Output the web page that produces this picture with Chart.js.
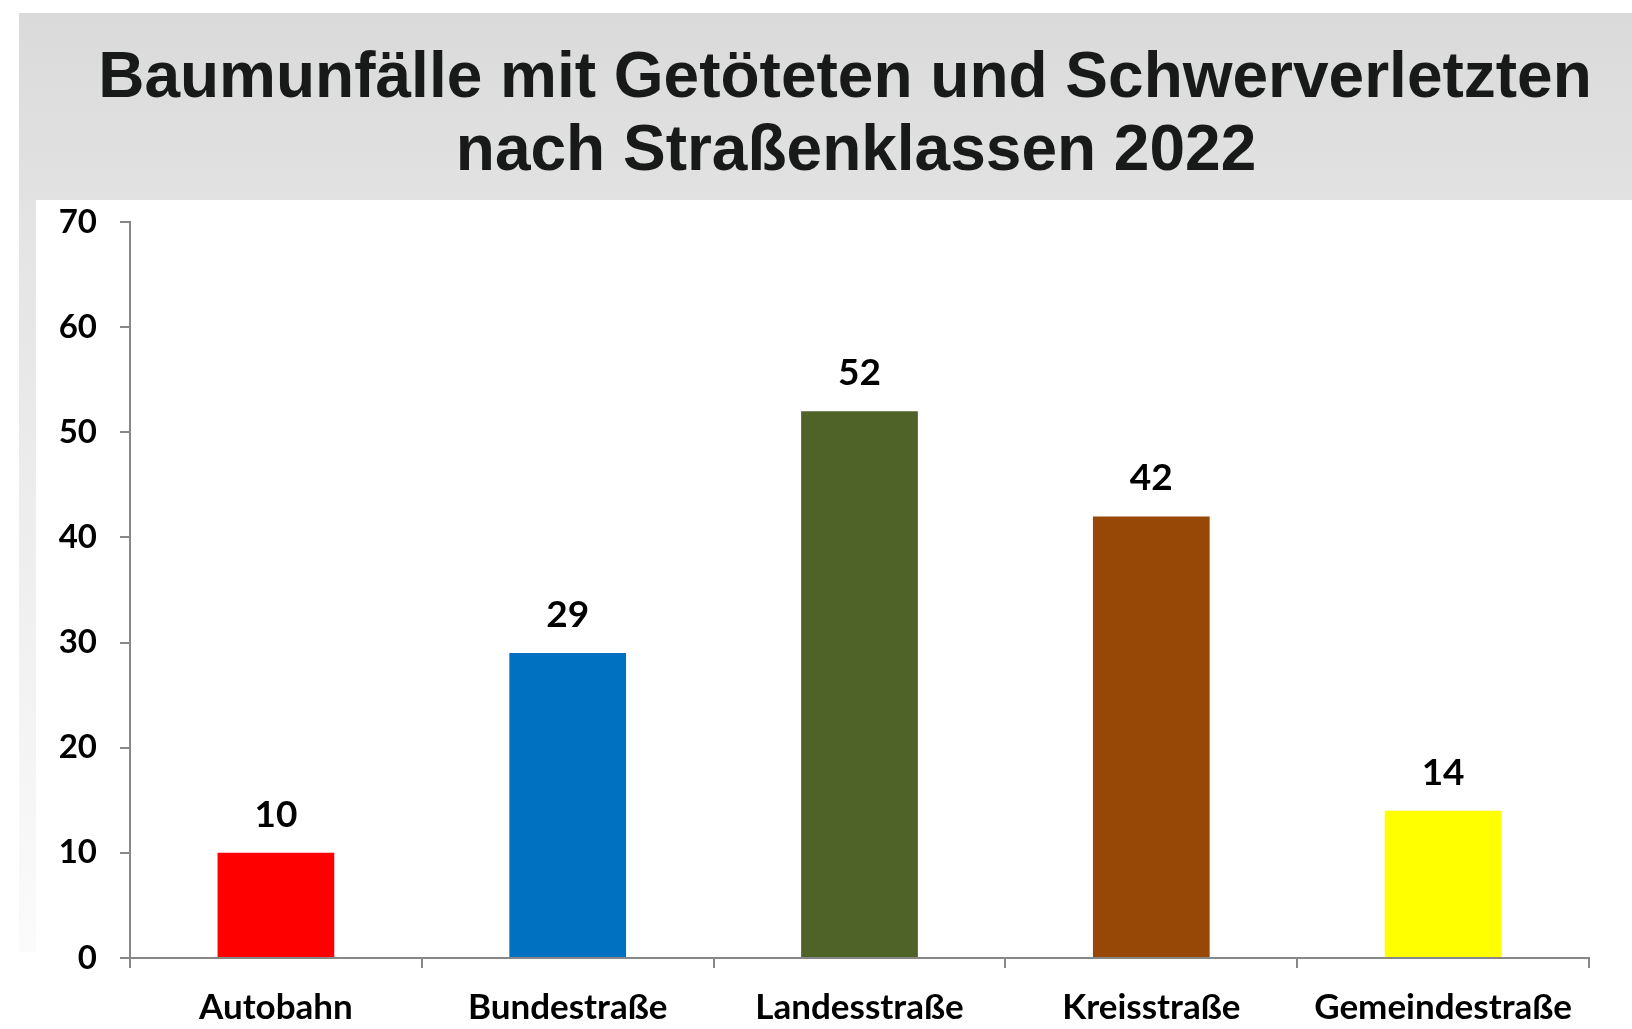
<!DOCTYPE html>
<html>
<head>
<meta charset="utf-8">
<script src="https://cdn.jsdelivr.net/npm/chart.js@4/dist/chart.umd.min.js"></script>
<style>
  html, body { margin:0; padding:0; width:1632px; height:1029px; overflow:hidden; background:#ffffff; }
  #header { position:absolute; left:19px; top:13px; width:1613px; height:187px;
    background:linear-gradient(#d9dad9, #e1e2e1); }
  #strip { position:absolute; left:19px; top:200px; width:17px; height:752px;
    background:linear-gradient(#e2e3e2, #fbfbfb); }
  #title { position:absolute; left:0; top:39px; width:1690px; text-align:center;
    font-family:"Liberation Sans", Arial, sans-serif; font-weight:bold; font-size:64px;
    line-height:73px; color:#181a19; margin:0; }
  #title .l2 { position:relative; left:11px; }
  #wrap { position:absolute; left:36px; top:200px; width:1596px; height:829px; background:#ffffff; }
  canvas { display:block; }
</style>
</head>
<body>
<div id="header"></div>
<div id="strip"></div>
<h1 id="title">Baumunfälle mit Getöteten und Schwerverletzten<br><span class="l2">nach Straßenklassen 2022</span></h1>
<div id="wrap"><canvas id="c" width="1596" height="829"></canvas></div>
<script>
const categories = ["Autobahn", "Bundestraße", "Landesstraße", "Kreisstraße", "Gemeindestraße"];
const values = [10, 29, 52, 42, 14];
const barColors = ["#ff0000", "#0070c0", "#4f6228", "#974706", "#ffff00"];
const yTicks = [0, 10, 20, 30, 40, 50, 60, 70];

const axisGrey = "#878787";

const valueLabels = {
  id: "valueLabels",
  afterDatasetsDraw(chart) {
    const ctx = chart.ctx;
    const meta = chart.getDatasetMeta(0);
    ctx.save();
    ctx.font = "bold 37px Lato, 'Open Sans', sans-serif";
    ctx.fillStyle = "#000000";
    ctx.textAlign = "center";
    ctx.textBaseline = "middle";
    meta.data.forEach((bar, i) => {
      ctx.fillText(String(values[i]), bar.x, bar.y - 38);
    });
    ctx.restore();
  }
};

new Chart(document.getElementById("c"), {
  type: "bar",
  data: {
    labels: categories,
    datasets: [{
      data: values,
      backgroundColor: barColors,
      borderWidth: 0,
      categoryPercentage: 1.0,
      barPercentage: 0.4
    }]
  },
  options: {
    responsive: false,
    animation: false,
    devicePixelRatio: 1,
    layout: { padding: { top: 22, right: 43, left: 0, bottom: 0 } },
    plugins: { legend: { display: false }, title: { display: false }, tooltip: { enabled: false } },
    scales: {
      x: {
        offset: true,
        grid: { display: true, offset: true, drawOnChartArea: false, drawTicks: true, tickLength: 10, color: axisGrey, lineWidth: 2 },
        border: { display: true, color: axisGrey, width: 2 },
        ticks: { color: "#000000", padding: 19, maxRotation: 0, autoSkip: false,
          font: { family: "Lato, 'Open Sans', sans-serif", weight: "bold", size: 35 } },
        afterFit(scale) { scale.height = 71; scale.paddingLeft = 0; scale.paddingRight = 0; }
      },
      y: {
        min: 0, max: 70,
        afterBuildTicks(scale) { scale.ticks = yTicks.map(v => ({ value: v })); },
        grid: { display: true, drawOnChartArea: false, drawTicks: true, tickLength: 10, color: axisGrey, lineWidth: 2 },
        border: { display: true, color: axisGrey, width: 2 },
        ticks: { color: "#000000", padding: 23,
          font: { family: "Lato, 'Open Sans', sans-serif", weight: "bold", size: 33 } },
        afterFit(scale) { scale.width = 94; scale.paddingTop = 0; scale.paddingBottom = 0; }
      }
    }
  },
  plugins: [valueLabels]
});
</script>
</body>
</html>
